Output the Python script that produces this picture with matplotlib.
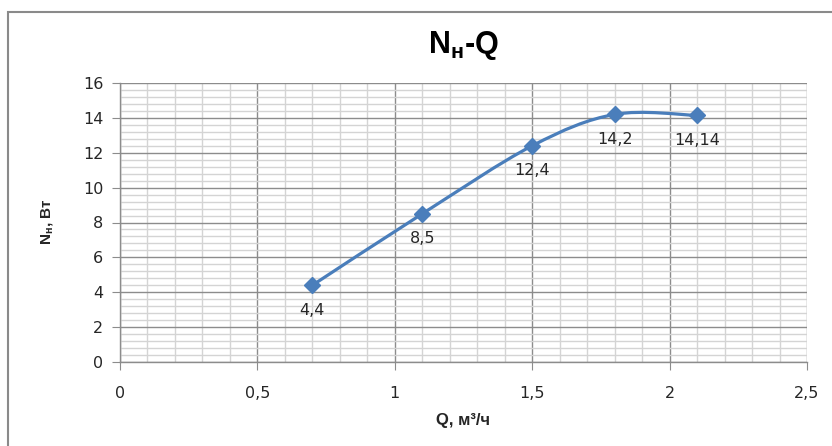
import matplotlib
matplotlib.use("Agg")
import matplotlib.pyplot as plt
from matplotlib.path import Path
from matplotlib.patches import PathPatch, Rectangle
import numpy as np

# data
q_values = [0.7, 1.1, 1.5, 1.8, 2.1]
n_values = [4.4, 8.5, 12.4, 14.2, 14.14]
point_labels = ["4,4", "8,5", "12,4", "14,2", "14,14"]

x_ticks = [0, 0.5, 1, 1.5, 2, 2.5]
x_tick_labels = ["0", "0,5", "1", "1,5", "2", "2,5"]
y_ticks = [0, 2, 4, 6, 8, 10, 12, 14, 16]

LINE_COLOR = "#4a7ebb"
MAJOR_GRID = "#8c8c8c"
MINOR_GRID = "#d4d4d4"
TEXT_COLOR = "#262626"


def smooth_path(xs, ys):
    # Excel-style smoothed line: cubic Bezier segments through the points
    pts = np.column_stack([xs, ys])
    padded = np.vstack([pts[0], pts, pts[-1]])
    verts = [tuple(pts[0])]
    codes = [Path.MOVETO]
    for i in range(len(pts) - 1):
        p0, p1, p2, p3 = padded[i], padded[i + 1], padded[i + 2], padded[i + 3]
        c1 = p1 + (p2 - p0) / 6.0
        c2 = p2 - (p3 - p1) / 6.0
        verts += [tuple(c1), tuple(c2), tuple(p2)]
        codes += [Path.CURVE4] * 3
    return Path(verts, codes)


fig = plt.figure(figsize=(8.32, 4.46), dpi=100)
ax = fig.add_axes([120 / 832, 1 - 362 / 446, 687 / 832, 279 / 446])

# outer chart frame (Excel chart area)
fig.patches.append(Rectangle((8 / 832, -0.2), 1.2, 1.2 - 12 / 446,
                             transform=fig.transFigure, fill=False,
                             edgecolor="#8a8a8a", linewidth=1.5))

ax.set_xlim(0, 2.5)
ax.set_ylim(0, 16)
ax.set_xticks(x_ticks)
ax.set_xticklabels(x_tick_labels)
ax.set_yticks(y_ticks)
ax.set_xticks(np.arange(0, 2.5001, 0.1), minor=True)
ax.set_yticks(np.arange(0, 16.001, 0.4), minor=True)

ax.grid(which="minor", color=MINOR_GRID, linewidth=1.0)
ax.grid(which="major", color=MAJOR_GRID, linewidth=1.0)
ax.set_axisbelow(True)

for side in ["top", "right"]:
    ax.spines[side].set_visible(False)
for side in ["left", "bottom"]:
    ax.spines[side].set_color(MAJOR_GRID)
    ax.spines[side].set_linewidth(1.0)

ax.tick_params(which="major", length=6, color=MAJOR_GRID, labelsize=11.5,
               labelcolor=TEXT_COLOR, pad=4)
ax.tick_params(which="minor", length=0)
ax.tick_params(axis="x", pad=11)
ax.tick_params(axis="y", pad=6)

ax.add_patch(PathPatch(smooth_path(q_values, n_values), facecolor="none",
                       edgecolor=LINE_COLOR, linewidth=2.3, zorder=3))
ax.plot(q_values, n_values, linestyle="none", marker="D", markersize=8,
        color=LINE_COLOR, zorder=4)

for q, n, lab in zip(q_values, n_values, point_labels):
    ax.annotate(lab, (q, n), textcoords="offset points", xytext=(0, -18),
                ha="center", va="center", fontsize=11.5, color=TEXT_COLOR)

fig.text(463 / 832, 1 - 46 / 446, r"N$\mathregular{_{н}}$-Q", ha="center",
         va="center", fontsize=22, fontweight="bold",
         family="Liberation Sans", color="black")
fig.text(463 / 832, 1 - 420 / 446, "Q, м³/ч", ha="center", va="center",
         fontsize=12, fontweight="bold", family="Liberation Sans",
         color=TEXT_COLOR)
fig.text(47 / 832, 1 - 222 / 446, r"N$\mathregular{_{н}}$, Вт", ha="center",
         va="center", rotation=90, fontsize=11, fontweight="bold",
         family="Liberation Sans", color=TEXT_COLOR)

fig.savefig("out.png", dpi=100)
